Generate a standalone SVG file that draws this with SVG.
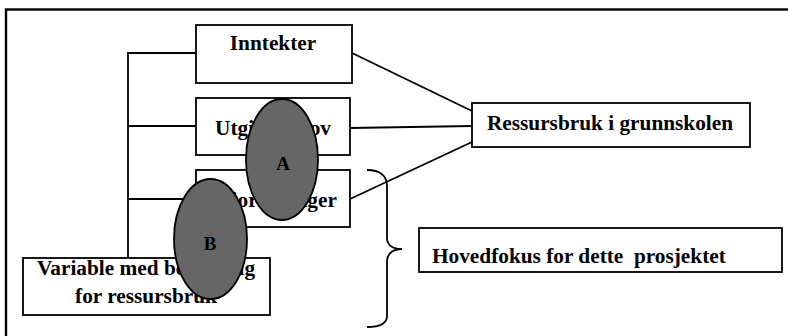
<svg xmlns="http://www.w3.org/2000/svg" width="788" height="336" viewBox="0 0 788 336">
<style>
.box{fill:#fff;stroke:#000;stroke-width:1.8}
.ln{fill:none;stroke:#000;stroke-width:1.8}
.t{font-family:"Liberation Serif","Times New Roman",serif;font-weight:bold;font-size:21.3px;fill:#000}
.ov{fill:#666;stroke:#000;stroke-width:1.8}
.lb{font-family:"Liberation Serif","Times New Roman",serif;font-weight:bold;font-size:19px;fill:#000;text-anchor:middle}
</style>
<rect x="0" y="0" width="788" height="336" fill="#fff"/>
<rect x="6" y="9.5" width="800" height="340" fill="none" stroke="#000" stroke-width="2.4"/>
<g id="connectors">
<polyline class="ln" points="196,53 128,53 128,258"/>
<line class="ln" x1="128" y1="126" x2="196" y2="126"/>
<line class="ln" x1="128" y1="199" x2="196" y2="199"/>
<line class="ln" x1="352" y1="53" x2="472" y2="111"/>
<line class="ln" x1="350" y1="128" x2="472" y2="126"/>
<line class="ln" x1="350" y1="199" x2="472" y2="142"/>
<path class="ln" d="M367,170 C380,170 387,176 387,186 L387,238 C387,246 394,249 402,249 C394,249 387,253 387,261 L387,316 C387,324 380,327 367,327"/>
</g>
<g id="inntekter">
<rect class="box" x="196" y="25" width="156" height="58"/>
<text class="t" x="273" y="50" text-anchor="middle">Inntekter</text>
</g>
<g id="utgiftsbehov">
<rect class="box" x="196" y="98" width="154" height="57"/>
<text class="t" x="273" y="135" text-anchor="middle">Utgiftsbehov</text>
</g>
<g id="prioriteringer">
<rect class="box" x="196" y="170" width="154" height="57"/>
<text class="t" x="273" y="207" text-anchor="middle">Prioriteringer</text>
</g>
<g id="ressursbruk">
<rect class="box" x="472" y="103" width="278" height="44"/>
<text class="t" x="610" y="130" text-anchor="middle">Ressursbruk i grunnskolen</text>
</g>
<g id="hovedfokus">
<rect class="box" x="419" y="228" width="363" height="44"/>
<text class="t" x="432" y="263" xml:space="preserve">Hovedfokus for dette  prosjektet</text>
</g>
<g id="variable">
<rect class="box" x="23" y="258" width="247" height="57"/>
<text class="t" x="146" y="275" text-anchor="middle">Variable med betydning</text>
<text class="t" x="146" y="303" text-anchor="middle">for ressursbruk</text>
</g>
<g id="A">
<ellipse class="ov" cx="282" cy="159.5" rx="36" ry="60.5"/>
<text class="lb" x="283" y="170">A</text>
</g>
<g id="B">
<ellipse class="ov" cx="210.5" cy="239" rx="36.5" ry="60"/>
<text class="lb" x="210" y="250">B</text>
</g>
</svg>
